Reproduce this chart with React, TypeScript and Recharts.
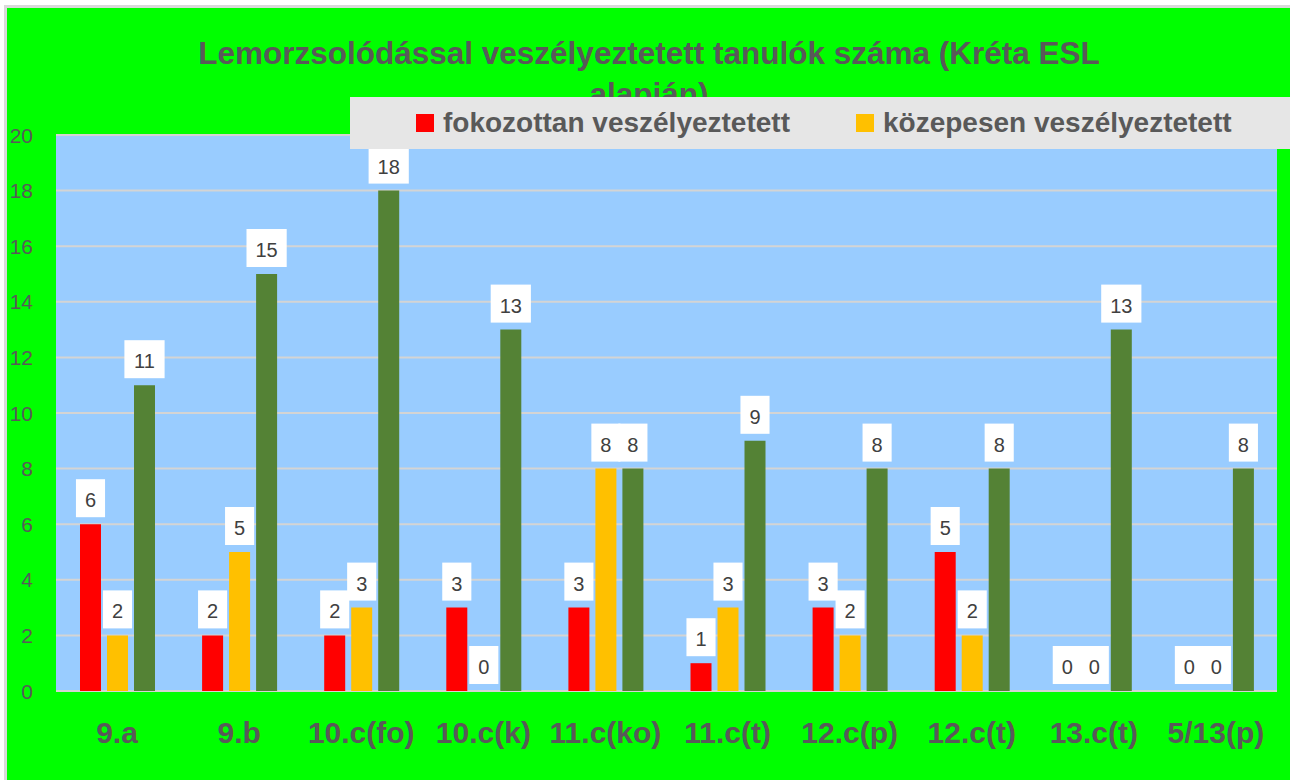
import React from 'react';
import { BarChart, Bar, XAxis, YAxis, CartesianGrid, LabelList } from 'recharts';

if (typeof document !== 'undefined') {
  document.body.style.margin = '0';
}

const categories = ['9.a', '9.b', '10.c(fo)', '10.c(k)', '11.c(ko)', '11.c(t)', '12.c(p)', '12.c(t)', '13.c(t)', '5/13(p)'];
const fokozottan = [6, 2, 2, 3, 3, 1, 3, 5, 0, 0];
const kozepesen = [2, 5, 3, 0, 8, 3, 2, 2, 0, 0];
const harmadik = [11, 15, 18, 13, 8, 9, 8, 8, 13, 8];
const yTicks = [0, 2, 4, 6, 8, 10, 12, 14, 16, 18, 20];
const seriesNames = ['fokozottan veszélyeztetett', 'közepesen veszélyeztetett', 'veszélyeztetett'];
const seriesColors = ['#ff0000', '#ffc000', '#548235'];
const titleLines = ['Lemorzsolódással veszélyeztetett tanulók száma (Kréta ESL', 'alapján)'];

const data = categories.map((c, i) => ({ name: c, a: fokozottan[i], b: kozepesen[i], c: harmadik[i] }));

const FONT = '"Liberation Sans", Arial, sans-serif';

const DataLabel = (props: any) => {
  const { x, y, width, height, value } = props;
  const cx = x + width / 2;
  const top = Math.min(y, y + (height || 0));
  const s = String(value);
  const w = s.length * 11.1 + 18;
  return (
    <g>
      <rect x={cx - w / 2} y={top - 7 - 38} width={w} height={38} fill="#ffffff" />
      <text x={cx} y={top - 17} textAnchor="middle" fontSize={20} fill="#404040" fontFamily={FONT}>{s}</text>
    </g>
  );
};

const XTick = (props: any) => {
  const { x, y, payload } = props;
  return (
    <text x={x} y={y + 52} textAnchor="middle" fontSize={30} fontWeight="bold" fill="#595959" fontFamily={FONT}>{payload.value}</text>
  );
};

const YTick = (props: any) => {
  const { x, y, payload } = props;
  return (
    <text x={x - 23} y={y + 7.5} textAnchor="end" fontSize={21} fill="#595959" fontFamily={FONT}>{payload.value}</text>
  );
};

export default function App() {
  return (
    <div style={{ position: 'relative', width: 1290, height: 780, background: '#ffffff', overflow: 'hidden' }}>
      <div style={{ position: 'absolute', left: 4, top: 5, width: 1283, height: 772, borderLeft: '3px solid #d9d9d9', borderTop: '3px solid #d9d9d9', background: '#00ff00', overflow: 'hidden', fontFamily: FONT }}>
        <svg width={1283} height={140} style={{ position: 'absolute', left: 0, top: 0 }}>
          <text x={642} y={55.5} textAnchor="middle" fontSize={31.5} fontWeight="bold" fill="#595959" fontFamily={FONT}>{titleLines[0]}</text>
          <text x={642} y={96.5} textAnchor="middle" fontSize={31.5} fontWeight="bold" fill="#595959" fontFamily={FONT}>{titleLines[1]}</text>
        </svg>
        <div style={{ position: 'absolute', left: 0, top: 0 }}>
          <BarChart width={1283} height={772} data={data} margin={{ top: 127, right: 13, bottom: 0, left: 9 }} barSize={21} barGap={6}>
            <CartesianGrid vertical={false} stroke="#d4d4d4" strokeWidth={2} fill="#99ccff" />
            <XAxis dataKey="name" height={89} axisLine={false} tickLine={false} tickSize={0} tickMargin={0} tick={<XTick />} interval={0} />
            <YAxis width={40} domain={[0, 20]} ticks={yTicks} axisLine={false} tickLine={false} tickSize={0} tickMargin={0} tick={<YTick />} interval={0} />
            <Bar dataKey="a" name={seriesNames[0]} fill={seriesColors[0]} minPointSize={0.01} isAnimationActive={false}>
              <LabelList dataKey="a" content={<DataLabel />} />
            </Bar>
            <Bar dataKey="b" name={seriesNames[1]} fill={seriesColors[1]} minPointSize={0.01} isAnimationActive={false}>
              <LabelList dataKey="b" content={<DataLabel />} />
            </Bar>
            <Bar dataKey="c" name={seriesNames[2]} fill={seriesColors[2]} minPointSize={0.01} isAnimationActive={false}>
              <LabelList dataKey="c" content={<DataLabel />} />
            </Bar>
          </BarChart>
        </div>
        <div style={{ position: 'absolute', left: 343, top: 89, width: 1000, height: 52, background: '#e6e6e6', display: 'flex', alignItems: 'center', paddingLeft: 66, boxSizing: 'border-box' }}>
          {seriesNames.slice(0, 2).map((n, i) => (
            <div key={n} style={{ display: 'flex', alignItems: 'center', marginRight: 66 }}>
              <div style={{ width: 18, height: 18, background: seriesColors[i], marginRight: 9 }} />
              <span style={{ fontSize: 28, fontWeight: 'bold', color: '#595959', lineHeight: '32px' }}>{n}</span>
            </div>
          ))}
        </div>
      </div>
    </div>
  );
}
